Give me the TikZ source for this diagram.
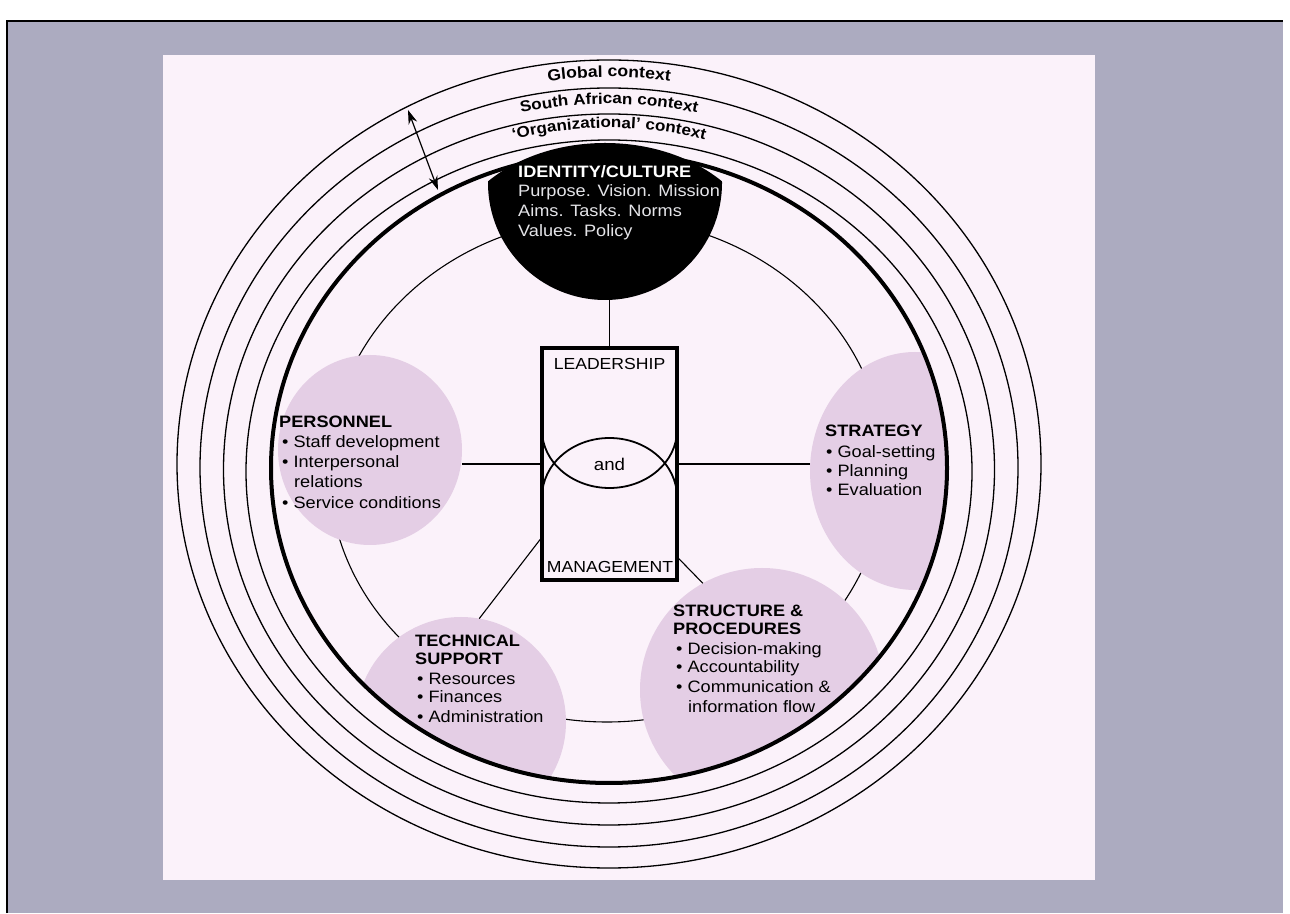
\documentclass[tikz,border=0pt]{standalone}
\usepackage{fontspec}
\setmainfont{Liberation Sans}[FakeStretch=1.1]
\usetikzlibrary{decorations.text,calc,arrows.meta,shapes.geometric}
\definecolor{bgGrey}{RGB}{172,171,192}
\definecolor{panel}{RGB}{251,242,250}
\definecolor{mauve}{RGB}{228,206,229}
\definecolor{lightTxt}{RGB}{228,228,232}
\tikzset{
  ring/.style={line width=1.3pt},
  thickring/.style={line width=4pt},
  conn/.style={line width=1.1pt},
  sat/.style={ellipse, fill=mauve, inner sep=0pt, outer sep=0pt},
  lmbox/.style={rectangle, draw, line width=4pt, inner sep=0pt, outer sep=0pt, minimum width=135pt, minimum height=232pt},
  txt/.style={anchor=base west, inner sep=0pt, font=\fontsize{16.5}{19}\selectfont},
  hd/.style={anchor=base west, inner sep=0pt, font=\bfseries\fontsize{16.5}{19}\selectfont},
  idtxt/.style={anchor=base west, inner sep=0pt, text=lightTxt, font=\fontsize{16.5}{19}\selectfont},
  boxtxt/.style={anchor=base, inner sep=0pt, font=\fontsize{16}{19}\selectfont},
  arctext/.style={decorate, decoration={text along path, text align=center, text={#1}}}
}
\begin{document}
\begin{tikzpicture}[x=1pt,y=1pt]
\useasboundingbox (0,0) rectangle (1290,913);
% background
\fill[white] (0,0) rectangle (1290,913);
\fill[bgGrey] (7,0) rectangle (1283,913-21);
\draw[line width=1.2pt] (7,0) -- (7,913-21) -- (1283,913-21);
\fill[panel] (163,913-880) rectangle (1095,913-55);
% thin connecting ring
\draw[conn] (607,913-470) ellipse [x radius=278, y radius=252];
% satellites
\begin{scope}
\clip (609,913-468) ellipse [x radius=338, y radius=315];
\node[sat, minimum width=184pt, minimum height=190pt] (pers) at (370,913-450) {};
\node[sat, minimum width=210pt, minimum height=238pt] (strat) at (915,913-471) {};
\node[sat, minimum width=210pt, minimum height=210pt] (tech) at (461,913-722) {};
\node[sat, minimum width=244pt, minimum height=244pt] (struct) at (762,913-690) {};
\end{scope}
% rings
\draw[thickring] (609,913-468) ellipse [x radius=338, y radius=315];
\draw[ring] (609,913-471.5) ellipse [x radius=363, y radius=331.5];
\draw[ring] (609,913-469.5) ellipse [x radius=385.5, y radius=355.5];
\draw[ring] (609,913-467.5) ellipse [x radius=409, y radius=379.5];
\draw[ring] (609,913-464) ellipse [x radius=432, y radius=404];
% ring labels
\path[arctext={|\bfseries\fontsize{16}{19}\selectfont|Global context}]
  (609,913-466) ++(150:420 and 389) arc[start angle=150, end angle=30, x radius=420, y radius=389];
\path[arctext={|\bfseries\fontsize{15.5}{19}\selectfont|South African context}]
  (609,913-468) ++(150:397 and 364) arc[start angle=150, end angle=30, x radius=397, y radius=364];
\path[arctext={|\bfseries\fontsize{15.5}{19}\selectfont|‘Organizational’ context}]
  (609,913-470) ++(150:374 and 342) arc[start angle=150, end angle=30, x radius=374, y radius=342];
% identity / culture
\begin{scope}
\clip (605,913-260) ellipse [x radius=158, y radius=117];
\fill[black] (605,913-183) circle [radius=117];
\end{scope}
\coordinate (idb) at (609.5,913-300);
\node[hd, text=white] (id0) at (518,913-178) {IDENTITY/CULTURE};
\node[idtxt] (id1) at (518,913-197) {Purpose. Vision. Mission};
\node[idtxt] (id2) at (518,913-217) {Aims. Tasks. Norms};
\node[idtxt] (id3) at (518,913-237) {Values. Policy};
% leadership and management box
\node[lmbox] (lm) at (609.5,913-464) {};
\draw[line width=1.8pt] (542,913-430) arc[start angle=180, end angle=360, x radius=67.5, y radius=58];
\draw[line width=1.8pt] (542,913-497) arc[start angle=180, end angle=0, x radius=67.5, y radius=59];
\node[boxtxt] (lead) at (609.5,913-370) {LEADERSHIP};
\node[boxtxt, font=\fontsize{17}{19}\selectfont] (and) at (609.5,913-471) {and};
\node[boxtxt] (mgmt) at (610,913-573) {MANAGEMENT};
% connectors
\draw[conn] (lm.north) -- (idb);
\draw[conn] (lm.west) -- (lm.west -| pers.east);
\draw[conn] (lm.east) -- (lm.east -| strat.west);
\draw[conn] ($(lm.south west)!0.185!(lm.north west)$) -- (tech.80);
\draw[conn] ($(lm.south east)!0.1!(lm.north east)$) -- (struct.119);
% personnel
\node[hd] (p0) at (279,913-428) {PERSONNEL};
\node[txt] (p1) at (282,913-448) {• Staff development};
\node[txt] (p2) at (282,913-468) {• Interpersonal};
\node[txt] (p3) at (294,913-488) {relations};
\node[txt] (p4) at (282,913-509) {• Service conditions};
% strategy
\node[hd] (s0) at (825,913-437) {STRATEGY};
\node[txt] (s1) at (826,913-458) {• Goal-setting};
\node[txt] (s2) at (826,913-477) {• Planning};
\node[txt] (s3) at (826,913-496) {• Evaluation};
% technical support
\node[hd] (t0) at (415,913-647) {TECHNICAL};
\node[hd] (t1) at (415,913-665) {SUPPORT};
\node[txt] (t2) at (417,913-685) {• Resources};
\node[txt] (t3) at (417,913-703) {• Finances};
\node[txt] (t4) at (417,913-723) {• Administration};
% structure & procedures
\node[hd] (u0) at (673,913-617) {STRUCTURE \&};
\node[hd] (u1) at (673,913-635) {PROCEDURES};
\node[txt] (u2) at (676,913-655) {• Decision-making};
\node[txt] (u3) at (676,913-673) {• Accountability};
\node[txt] (u4) at (676,913-693) {• Communication \&};
\node[txt] (u5) at (688,913-713) {information flow};
% double arrow across the context rings
\coordinate (arA) at (408,913-110);
\coordinate (arB) at (438,913-190);
\draw[{Stealth[length=14pt,width=9pt]}-{Stealth[length=14pt,width=9pt]}, line width=1.2pt] (arA) -- (arB);
\end{tikzpicture}
\end{document}
